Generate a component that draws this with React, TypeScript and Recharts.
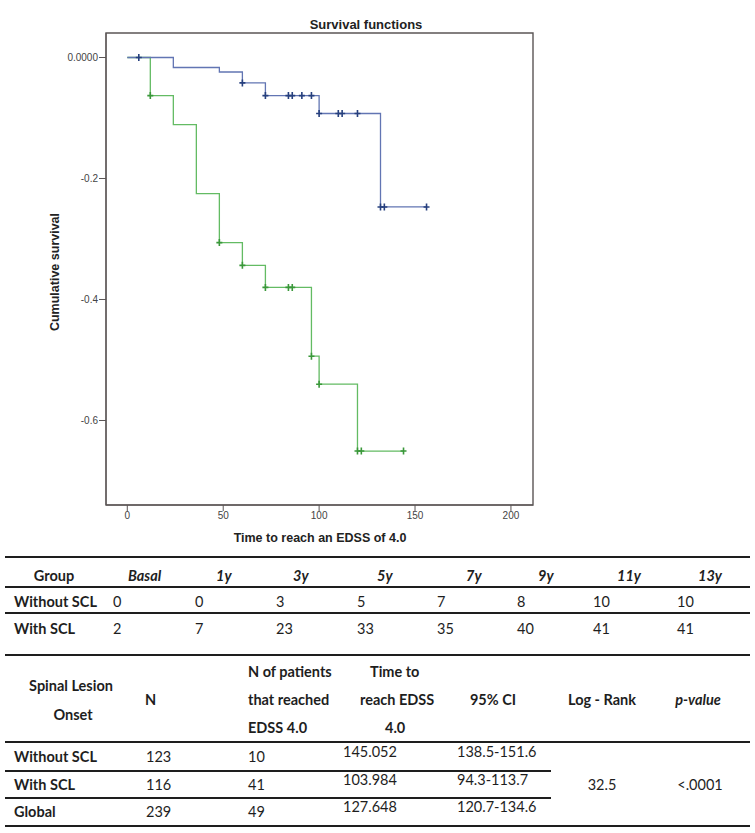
import React from 'react';
import { LineChart, Line, Scatter, XAxis, YAxis, ReferenceArea } from 'recharts';

// Kaplan-Meier curves (time in months, value as printed on the axis)
const BLUE_T = [0, 24, 48, 60, 72, 100, 132, 156];
const BLUE_S = [0, -0.0165, -0.024, -0.042, -0.063, -0.0926, -0.247, -0.247];
const BLUE_CENSOR = [6, 60, 72, 84, 86, 91, 96, 100, 110, 112, 120, 132, 134, 156];

const GREEN_T = [0, 12, 24, 36, 48, 60, 72, 96, 100, 120, 144];
const GREEN_S = [0, -0.063, -0.111, -0.225, -0.306, -0.3436, -0.38, -0.4937, -0.54, -0.6505, -0.6505];
const GREEN_CENSOR = [12, 48, 60, 72, 84, 86, 96, 100, 120, 122, 144];

const X_TICKS = [0, 50, 100, 150, 200];
const Y_TICKS = [0, -0.2, -0.4, -0.6];

// table 1
const GROUPS = ['Without SCL', 'With SCL'];
const YEAR_LABELS = ['Basal', '1y', '3y', '5y', '7y', '9y', '11y', '13y'];
const REACHED_WITHOUT = [0, 0, 3, 5, 7, 8, 10, 10];
const REACHED_WITH = [2, 7, 23, 33, 35, 40, 41, 41];

// table 2
const ONSET = ['Without SCL', 'With SCL', 'Global'];
const N_TOTAL = [123, 116, 239];
const N_REACHED = [10, 41, 49];
const MEAN_TIME = ['145.052', '103.984', '127.648'];
const CI95 = ['138.5-151.6', '94.3-113.7', '120.7-134.6'];
const LOG_RANK = '32.5';
const P_VALUE = '<.0001';

const BLUE_LINE = '#6275b3';
const BLUE_MARK = '#27407e';
const GREEN_LINE = '#63bb63';
const GREEN_MARK = '#3a983a';
const FRAME = '#5b5555';
const CHART_FONT = '"Liberation Sans", Arial, sans-serif';
const TABLE_FONT = 'Lato, "Open Sans", sans-serif';

const X_DOMAIN = [-11.1, 211.5];
const Y_DOMAIN = [-0.7397, 0.0405];

const steps = (ts: number[], ss: number[]) => ts.map((t, i) => ({ t, s: ss[i] }));
const levelAt = (ts: number[], ss: number[], t: number) => {
  let v = ss[0];
  ts.forEach((x, i) => {
    if (x <= t) v = ss[i];
  });
  return v;
};
const censored = (cs: number[], ts: number[], ss: number[]) =>
  cs.map((t) => ({ t, s: levelAt(ts, ss, t) }));

const blueData = steps(BLUE_T, BLUE_S);
const greenData = steps(GREEN_T, GREEN_S);
const blueCensor = censored(BLUE_CENSOR, BLUE_T, BLUE_S);
const greenCensor = censored(GREEN_CENSOR, GREEN_T, GREEN_S);

const plusShape = (color: string) => (props: any) => {
  const { cx, cy } = props;
  return (
    <path
      d={`M${cx - 3},${cy}H${cx + 3}M${cx},${cy - 3.5}V${cy + 3.5}`}
      stroke={color}
      strokeWidth={1.6}
      fill="none"
    />
  );
};

const fmtY = (v: number) => (v === 0 ? '0.0000' : v.toFixed(1));

type TxtProps = {
  x: number;
  y: number;
  children: React.ReactNode;
  align?: 'left' | 'center';
  bold?: boolean;
  italic?: boolean;
};

function Txt({ x, y, children, align = 'left', bold, italic }: TxtProps) {
  return (
    <span
      style={{
        position: 'absolute',
        left: x,
        top: y - 10,
        lineHeight: '20px',
        whiteSpace: 'nowrap',
        transform: align === 'center' ? 'translateX(-50%)' : undefined,
        fontWeight: bold ? 700 : 400,
        fontStyle: italic ? 'italic' : 'normal',
      }}
    >
      {children}
    </span>
  );
}

function Rule({ y, x1 = 5, x2 = 750 }: { y: number; x1?: number; x2?: number }) {
  return (
    <div
      style={{ position: 'absolute', left: x1, top: y, width: x2 - x1, height: 2, background: '#1e1e1e' }}
    />
  );
}

const HEAD_X = [128, 216, 293, 377, 466, 538, 617, 698];
const VAL_X = [113, 195, 276, 357, 437, 517, 593, 677];

export default function App() {
  return (
    <div
      style={{
        position: 'absolute',
        left: 0,
        top: 0,
        width: 755,
        height: 833,
        background: '#fff',
        fontFamily: TABLE_FONT,
        fontSize: 14.5,
        color: '#1e1e1e',
      }}
    >
      <LineChart
        width={755}
        height={560}
        margin={{ top: 33, right: 222, bottom: 15, left: 0 }}
        style={{ position: 'absolute', left: 0, top: 0 }}
      >
        <XAxis
          type="number"
          dataKey="t"
          domain={X_DOMAIN}
          ticks={X_TICKS}
          allowDataOverflow
          height={40}
          tickSize={6}
          tickMargin={1}
          stroke={FRAME}
          tick={{ fontSize: 10, fill: '#444', fontFamily: CHART_FONT }}
        />
        <YAxis
          type="number"
          dataKey="s"
          domain={Y_DOMAIN}
          ticks={Y_TICKS}
          allowDataOverflow
          width={106}
          tickSize={7}
          tickMargin={1}
          stroke={FRAME}
          tickFormatter={fmtY}
          tick={{ fontSize: 10, fill: '#444', fontFamily: CHART_FONT }}
        />
        <ReferenceArea
          x1={X_DOMAIN[0]}
          x2={X_DOMAIN[1]}
          y1={Y_DOMAIN[0]}
          y2={Y_DOMAIN[1]}
          fill="none"
          stroke={FRAME}
          strokeWidth={1.4}
          fillOpacity={0}
        />
        <Line
          data={greenData}
          dataKey="s"
          type="stepAfter"
          stroke={GREEN_LINE}
          strokeWidth={1.3}
          dot={false}
          isAnimationActive={false}
        />
        <Line
          data={blueData}
          dataKey="s"
          type="stepAfter"
          stroke={BLUE_LINE}
          strokeWidth={1.3}
          dot={false}
          isAnimationActive={false}
        />
        <Scatter data={greenCensor} shape={plusShape(GREEN_MARK)} isAnimationActive={false} />
        <Scatter data={blueCensor} shape={plusShape(BLUE_MARK)} isAnimationActive={false} />
      </LineChart>

      <div
        style={{
          position: 'absolute',
          left: 366,
          top: 24,
          transform: 'translate(-50%, -50%)',
          fontFamily: CHART_FONT,
          fontWeight: 700,
          fontSize: 13,
          color: '#222',
          whiteSpace: 'nowrap',
        }}
      >
        Survival functions
      </div>
      <div
        style={{
          position: 'absolute',
          left: 320,
          top: 538,
          transform: 'translate(-50%, -50%)',
          fontFamily: CHART_FONT,
          fontWeight: 700,
          fontSize: 12.5,
          color: '#222',
          whiteSpace: 'nowrap',
        }}
      >
        Time to reach an EDSS of 4.0
      </div>
      <div
        style={{
          position: 'absolute',
          left: 55,
          top: 272,
          transform: 'translate(-50%, -50%) rotate(-90deg)',
          fontFamily: CHART_FONT,
          fontWeight: 700,
          fontSize: 12.5,
          color: '#222',
          whiteSpace: 'nowrap',
        }}
      >
        Cumulative survival
      </div>

      {/* table 1: patients reaching EDSS 4.0 by year */}
      <Rule y={556} />
      <Txt x={54} y={576} align="center" bold>
        Group
      </Txt>
      {YEAR_LABELS.map((l, i) => (
        <Txt key={l} x={HEAD_X[i]} y={576} bold italic>
          {l}
        </Txt>
      ))}
      <Rule y={586} />
      {[REACHED_WITHOUT, REACHED_WITH].map((row, r) => (
        <React.Fragment key={r}>
          <Txt x={14} y={[602, 629][r]} bold>
            {GROUPS[r]}
          </Txt>
          {row.map((v, i) => (
            <Txt key={i} x={VAL_X[i]} y={[602, 629][r]}>
              {v}
            </Txt>
          ))}
        </React.Fragment>
      ))}
      <Rule y={612} />
      <Rule y={654} />

      {/* table 2: survival summary */}
      <Txt x={71} y={686} align="center" bold>
        Spinal Lesion
      </Txt>
      <Txt x={73} y={715} align="center" bold>
        Onset
      </Txt>
      <Txt x={145} y={700} bold>
        N
      </Txt>
      <Txt x={248} y={672} bold>
        N of patients
      </Txt>
      <Txt x={248} y={700} bold>
        that reached
      </Txt>
      <Txt x={248} y={728} bold>
        EDSS 4.0
      </Txt>
      <Txt x={370} y={672} bold>
        Time to
      </Txt>
      <Txt x={360} y={700} bold>
        reach EDSS
      </Txt>
      <Txt x={385} y={728} bold>
        4.0
      </Txt>
      <Txt x={493} y={700} align="center" bold>
        95% CI
      </Txt>
      <Txt x={602} y={700} align="center" bold>
        Log - Rank
      </Txt>
      <Txt x={698} y={700} align="center" bold italic>
        p-value
      </Txt>
      <Rule y={741} />
      {ONSET.map((g, r) => {
        const y = [757, 785, 812][r];
        return (
          <React.Fragment key={g}>
            <Txt x={14} y={y} bold>
              {g}
            </Txt>
            <Txt x={146} y={y}>
              {N_TOTAL[r]}
            </Txt>
            <Txt x={248} y={y}>
              {N_REACHED[r]}
            </Txt>
            <Txt x={343} y={y - 5}>
              {MEAN_TIME[r]}
            </Txt>
            <Txt x={457} y={y - 5}>
              {CI95[r]}
            </Txt>
          </React.Fragment>
        );
      })}
      <Rule y={770} x2={551} />
      <Rule y={797} x2={551} />
      <Txt x={602} y={785} align="center">
        {LOG_RANK}
      </Txt>
      <Txt x={700} y={785} align="center">
        {P_VALUE}
      </Txt>
      <Rule y={825} />
    </div>
  );
}
